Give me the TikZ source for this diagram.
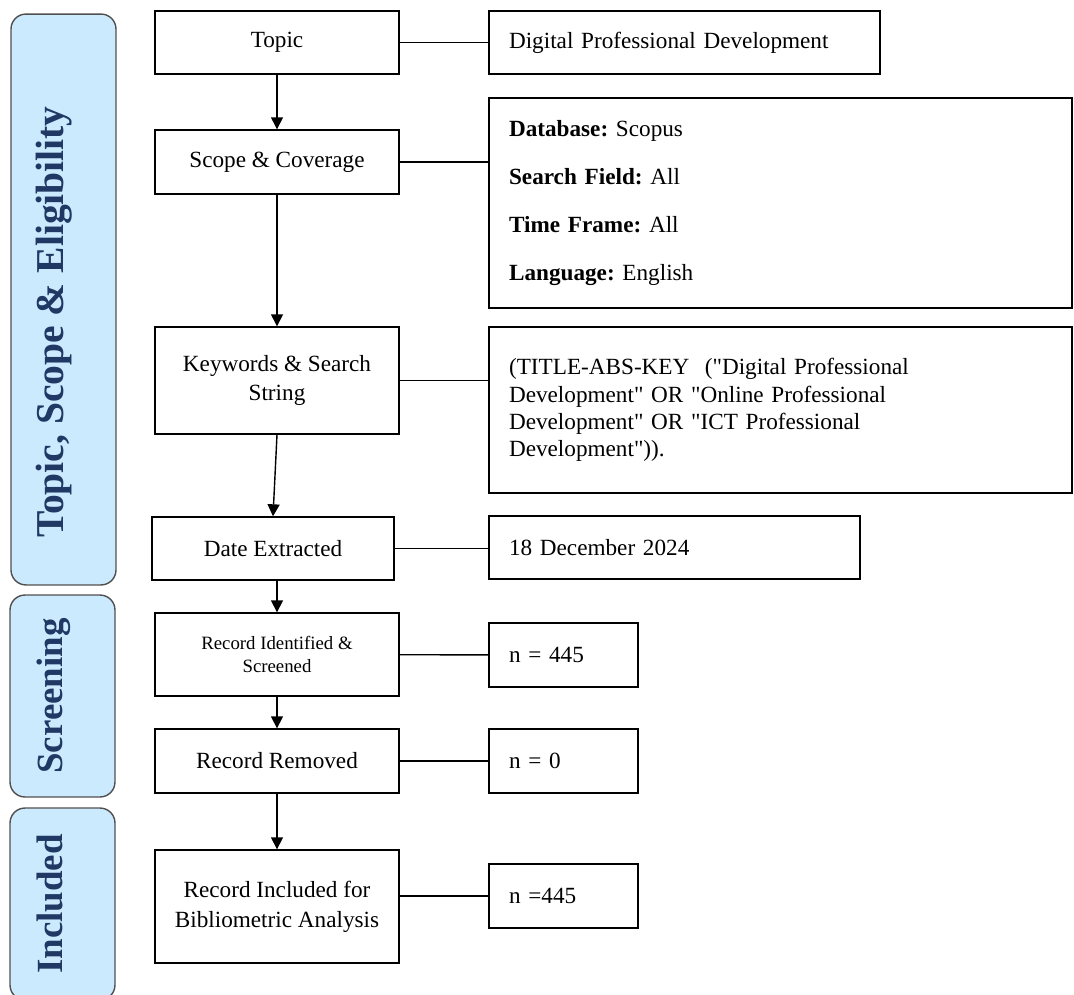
\documentclass[tikz,border=0pt]{standalone}
\usepackage{fontspec}
\setmainfont{Liberation Serif}
\usetikzlibrary{arrows.meta, positioning}
\definecolor{tabfill}{HTML}{CCEAFE}
\definecolor{tabnavy}{HTML}{1F3864}
\definecolor{tabedge}{HTML}{505050}
\frenchspacing

\begin{document}
\begin{tikzpicture}[
    x=0.02cm, y=-0.02cm,
    >={Triangle[length=2.4mm, width=2.4mm]},
    line width=0.8pt,
    stage/.style={draw, minimum width=4.88cm, align=center,
      font=\fontsize{13.2}{17}\selectfont},
    detail/.style={draw, align=left, inner xsep=0.4cm,
      font=\fontsize{13.2}{15.6}\selectfont},
    phase/.style={draw=tabedge, fill=tabfill, rounded corners=0.3cm,
      rotate=90, minimum height=2.1cm, text=tabnavy,
      text height=0.45cm, text depth=0.45cm,
      font=\fontsize{21}{25}\selectfont\bfseries},
  ]

  % Page
  \path[use as bounding box] (0,0) rectangle (1074,994);
  \clip (0,0) rectangle (1074,994);

  %%% ============================================================ %%%
  %%% Phase tabs                                                   %%%
  %%% ============================================================ %%%
  \node[phase, minimum width=11.42cm, font=\fontsize{22.5}{26}\selectfont\bfseries]
    (eligibility) at (63.5,299.5)
    {Topic, Scope \& Eligibility\hspace{0.9cm}\mbox{}};
  \node[phase, minimum width=4.04cm] (screening) at (62.5,696) {Screening};
  \node[phase, minimum width=3.84cm] (inclusion) at (62.5,904) {Included};

  %%% ============================================================ %%%
  %%% Stages (left column)                                         %%%
  %%% ============================================================ %%%
  \node[stage, minimum height=1.26cm] (topic) at (277,42.5) {Topic};
  \node[stage, minimum height=1.28cm] (scope) at (277,162) {Scope \& Coverage};
  \node[stage, minimum height=2.14cm] (keywords) at (277,380.5)
    {Keywords \& Search\\String};
  \node[stage, minimum width=4.84cm, minimum height=1.26cm] (extracted)
    at (273,548.5) {Date Extracted};
  \node[stage, minimum height=1.66cm, font=\fontsize{10.7}{13}\selectfont]
    (screened) at (277,654.5) {Record Identified \&\\Screened};
  \node[stage, minimum height=1.28cm] (removed) at (277,761) {Record Removed};
  \node[stage, minimum height=2.26cm] (included) at (277,906.5)
    {Record Included for\\Bibliometric Analysis};

  %%% ============================================================ %%%
  %%% Details (right column)                                       %%%
  %%% ============================================================ %%%
  \node[detail, text width=7.02cm, minimum height=1.26cm] (topicval)
    at (684.5,42.5) {Digital Professional Development};
  \node[detail, text width=10.86cm, minimum height=4.2cm,
    font=\fontsize{13.2}{27.3}\selectfont] (scopeval) at (780.5,203)
    {\textbf{Database:} Scopus\\
     \textbf{Search Field:} All\\
     \textbf{Time Frame:} All\\
     \textbf{Language:} English};
  \node[detail, text width=10.86cm, minimum height=3.32cm] (query)
    at (780.5,410)
    {(TITLE-ABS-KEY\ \ (\textquotedbl Digital Professional\\
     Development\textquotedbl{} OR \textquotedbl Online Professional\\
     Development\textquotedbl{} OR \textquotedbl ICT Professional\\
     Development\textquotedbl)).};
  \node[detail, text width=6.62cm, minimum height=1.26cm] (dateval)
    at (674.5,547.5) {18 December 2024};
  \node[detail, text width=2.18cm, minimum height=1.28cm] (nscreened)
    at (563.5,655) {n = 445};
  \node[detail, text width=2.18cm, minimum height=1.28cm] (nremoved)
    at (563.5,761) {n = 0};
  \node[detail, text width=2.18cm, minimum height=1.28cm] (nincluded)
    at (563.5,896) {n =445};

  % Links to details
  \draw (topic) -- (topicval);
  \draw (scope.east) -- (scope.east -| scopeval.west);
  \draw (keywords.east) -- (keywords.east -| query.west);
  \draw (extracted.east) -- (extracted.east -| dateval.west);
  \draw (screened) -- (nscreened);
  \draw (removed) -- (nremoved);
  \draw (nincluded.west -| included.east) -- (nincluded.west);

  % Flow arrows
  \draw[->] (topic) -- (scope);
  \draw[->] (scope) -- (keywords);
  \draw[->] (keywords.south) -- (extracted.north);
  \draw[->] (screened.north |- extracted.south) -- (screened.north);
  \draw[->] (screened) -- (removed);
  \draw[->] (removed) -- (included);

\end{tikzpicture}
\end{document}
